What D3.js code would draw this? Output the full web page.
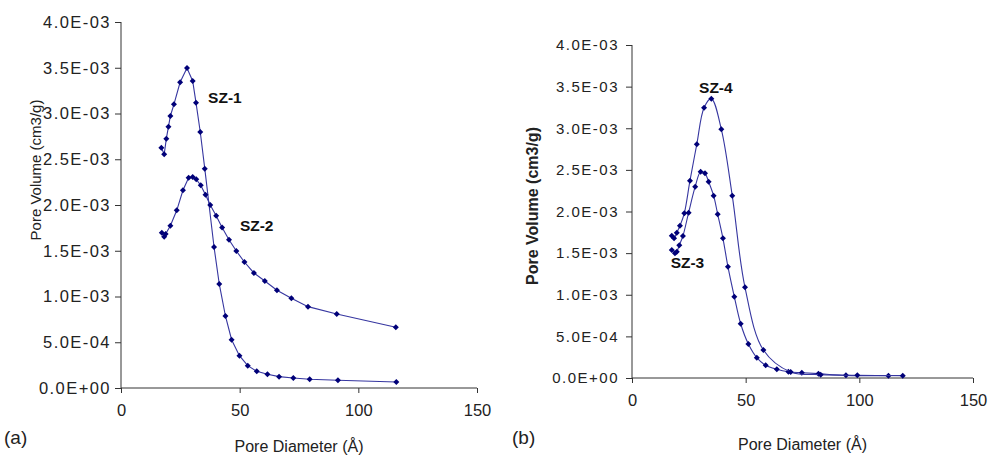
<!DOCTYPE html>
<html>
<head>
<meta charset="utf-8">
<script src="https://cdn.jsdelivr.net/npm/d3@7"></script>
<style>
    body { margin: 0; background: #fff; }
    svg text { font-family: "Liberation Sans", Arial, sans-serif; fill: #222; }
</style>
</head>
<body>
<div id="chart-container"></div>
<script>
// panel (a)
const sz1X = [17.0, 18.2, 19.1, 20.0, 20.8, 22.3, 24.9, 27.8, 30.2, 31.6, 33.4, 35.3, 39.2, 41.4, 44.0, 46.6, 49.9, 53.4, 57.2, 61.7, 66.6, 72.6, 79.5, 91.4, 116.0];
const sz1Y = [2.626e-3, 2.554e-3, 2.725e-3, 2.856e-3, 2.973e-3, 3.100e-3, 3.341e-3, 3.497e-3, 3.355e-3, 3.118e-3, 2.798e-3, 2.397e-3, 1.541e-3, 1.137e-3, 7.87e-4, 5.28e-4, 3.53e-4, 2.44e-4, 1.83e-4, 1.50e-4, 1.24e-4, 1.09e-4, 9.5e-5, 8.4e-5, 6.6e-5];
const sz2X = [17.2, 18.2, 18.8, 20.8, 23.5, 26.1, 28.5, 30.2, 31.7, 33.6, 35.6, 37.6, 40.1, 42.6, 45.5, 48.6, 52.0, 56.0, 60.6, 65.7, 71.8, 78.8, 90.9, 115.8];
const sz2Y = [1.697e-3, 1.654e-3, 1.683e-3, 1.774e-3, 1.942e-3, 2.161e-3, 2.298e-3, 2.306e-3, 2.281e-3, 2.215e-3, 2.113e-3, 2.0e-3, 1.883e-3, 1.754e-3, 1.621e-3, 1.497e-3, 1.377e-3, 1.257e-3, 1.169e-3, 1.068e-3, 9.80e-4, 8.89e-4, 8.09e-4, 6.63e-4];

// panel (b)
const sz3X = [17.5, 18.9, 19.7, 20.8, 22.4, 24.9, 27.8, 30.2, 32.1, 33.7, 35.9, 37.7, 40.0, 42.2, 45.0, 47.8, 51.2, 54.9, 58.8, 63.7, 68.8, 74.7, 82.0, 94.1, 112.8];
const sz3Y = [1.538e-3, 1.498e-3, 1.517e-3, 1.594e-3, 1.706e-3, 1.986e-3, 2.298e-3, 2.478e-3, 2.459e-3, 2.358e-3, 2.190e-3, 1.966e-3, 1.678e-3, 1.337e-3, 9.77e-4, 6.52e-4, 4.08e-4, 2.44e-4, 1.53e-4, 1.05e-4, 7.6e-5, 6.4e-5, 5.2e-5, 3.2e-5, 2.8e-5];
const sz4X = [17.5, 18.5, 19.7, 21.1, 23.0, 25.5, 28.5, 31.7, 34.9, 39.3, 44.1, 49.7, 57.8, 69.8, 83.0, 99.1, 119.1];
const sz4Y = [1.709e-3, 1.678e-3, 1.745e-3, 1.829e-3, 1.978e-3, 2.370e-3, 2.807e-3, 3.247e-3, 3.355e-3, 2.987e-3, 2.190e-3, 1.089e-3, 3.36e-4, 7.2e-5, 4.0e-5, 3.2e-5, 2.8e-5];

const xTicks = [0, 50, 100, 150];
const yTicks = [0, 5e-4, 1e-3, 1.5e-3, 2e-3, 2.5e-3, 3e-3, 3.5e-3, 4e-3];
const yTickLabels = ['0.0E+00', '5.0E-04', '1.0E-03', '1.5E-03', '2.0E-03', '2.5E-03', '3.0E-03', '3.5E-03', '4.0E-03'];

const width = 988, height = 455;
const lineColor = '#3636a0';
const markColor = '#000078';

const svg = d3.select('#chart-container')
    .append('svg')
    .attr('width', width)
    .attr('height', height)
    .style('background-color', '#fff');

const zip = (xs, ys) => xs.map((x, i) => ({x: x, y: ys[i]}));

function drawPanel(p) {
    const x = d3.scaleLinear().domain([0, 150]).range(p.xRange);
    const y = d3.scaleLinear().domain([0, 4e-3]).range(p.yRange);
    const g = svg.append('g');

    // axes
    const xAxis = g.append('g')
        .attr('transform', `translate(0,${p.yRange[0]})`)
        .call(d3.axisBottom(x).tickValues(xTicks).tickSize(5).tickPadding(11));
    xAxis.selectAll('text').style('font-size', '16.5px');

    const yAxis = g.append('g')
        .attr('transform', `translate(${p.xRange[0]},0)`)
        .call(d3.axisLeft(y).tickValues(yTicks).tickSize(p.yTickSize).tickPadding(p.yPad)
            .tickFormat((d, i) => yTickLabels[i]));
    yAxis.selectAll('text')
        .style('font-size', p.yFont)
        .style('letter-spacing', p.ySpacing);

    g.selectAll('.domain, .tick line').attr('stroke', '#333');
    g.selectAll('.domain').attr('d', null);
    // plain axis lines without end caps
    g.append('line')
        .attr('x1', p.xRange[0]).attr('x2', p.xRange[1])
        .attr('y1', p.yRange[0]).attr('y2', p.yRange[0])
        .attr('stroke', '#333');
    g.append('line')
        .attr('x1', p.xRange[0]).attr('x2', p.xRange[0])
        .attr('y1', p.yRange[0]).attr('y2', p.yRange[1])
        .attr('stroke', '#333');

    const line = d3.line()
        .x(d => x(d.x))
        .y(d => y(d.y))
        .curve(p.curve);

    p.series.forEach(s => {
        const pts = zip(s[0], s[1]);
        g.append('path')
            .datum(pts)
            .attr('fill', 'none')
            .attr('stroke', lineColor)
            .attr('stroke-width', 1.1)
            .attr('d', line);
        g.append('g')
            .selectAll('path')
            .data(pts)
            .enter().append('path')
            .attr('d', d3.symbol().type(d3.symbolSquare).size(18))
            .attr('fill', markColor)
            .attr('transform', d => `translate(${x(d.x)},${y(d.y)}) rotate(45)`);
    });

    p.notes.forEach(n => {
        g.append('text')
            .attr('x', x(n.x))
            .attr('y', y(n.y))
            .style('font-size', '15.5px')
            .style('font-weight', 'bold')
            .style('fill', '#111')
            .text(n.text);
    });

    g.append('text')
        .attr('x', (p.xRange[0] + p.xRange[1]) / 2)
        .attr('y', p.xTitleY)
        .attr('text-anchor', 'middle')
        .style('font-size', '16px')
        .text('Pore Diameter (Å)');

    g.append('text')
        .attr('transform', `translate(${p.yTitleX},${p.yTitleY}) rotate(-90)`)
        .attr('text-anchor', 'middle')
        .style('font-size', p.yTitleFont)
        .style('font-weight', p.yTitleWeight)
        .text('Pore Volume (cm3/g)');

    g.append('text')
        .attr('x', p.tagX)
        .attr('y', 444)
        .style('font-size', '19px')
        .text(p.tag);
}

drawPanel({
    xRange: [121, 477], yRange: [388, 22],
    yTickSize: 6, yPad: 4, yFont: '16.5px', ySpacing: '1.45px',
    curve: d3.curveLinear,
    series: [[sz1X, sz1Y], [sz2X, sz2Y]],
    notes: [
        {text: 'SZ-1', x: 36.7, y: 3.115e-3},
        {text: 'SZ-2', x: 50.1, y: 1.719e-3}
    ],
    xTitleY: 452,
    yTitleX: 41, yTitleY: 170, yTitleFont: '15px', yTitleWeight: 'normal',
    tag: '(a)', tagX: 4
});

drawPanel({
    xRange: [632, 973], yRange: [378, 45],
    yTickSize: 6, yPad: 7, yFont: '15px', ySpacing: '1.5px',
    curve: d3.curveCatmullRom,
    series: [[sz3X, sz3Y], [sz4X, sz4Y]],
    notes: [
        {text: 'SZ-4', x: 29.5, y: 3.427e-3},
        {text: 'SZ-3', x: 17.0, y: 1.321e-3}
    ],
    xTitleY: 450,
    yTitleX: 538, yTitleY: 206, yTitleFont: '16px', yTitleWeight: 'bold',
    tag: '(b)', tagX: 512
});
</script>
</body>
</html>
